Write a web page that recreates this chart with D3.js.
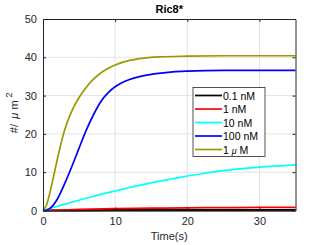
<!DOCTYPE html>
<html>
<meta charset="utf-8">
<style>
    body { margin: 0; background: #fff; font-family: "Liberation Sans", Arial, sans-serif; }
    .tick text { fill: #262626; font-size: 11px; }
    .grid line { stroke: #e3e3e3; }
</style>
<body>
<script src="https://cdn.jsdelivr.net/npm/d3@7"></script>
<div id="chart"></div>
<script>
    // values
    var seriesNames = ["0.1 nM", "1 nM", "10 nM", "100 nM", "1 \u03bc M"];
    var seriesColors = ["#000000", "#ff0000", "#00ffff", "#0000ff", "#999900"];

    var tBlack = [0, 5, 10, 20, 35];
    var vBlack = [0, 0.05, 0.08, 0.1, 0.1];

    var tRed = [0, 2, 5, 10, 15, 20, 25, 30, 35];
    var vRed = [0, 0.1, 0.3, 0.5, 0.6, 0.7, 0.75, 0.8, 0.8];

    var tCyan = [0, 2, 4, 6, 8, 10, 12, 14, 16, 18, 20, 22, 25, 28, 30, 35];
    var vCyan = [0, 1.1, 2.2, 3.2, 4.2, 5.1, 6.0, 6.8, 7.6, 8.3, 9.0, 9.6, 10.4, 11.0, 11.3, 11.9];

    var tBlue = [0, 0.5, 1, 1.5, 2, 3, 4, 5, 6, 7, 8, 9, 10, 11, 12, 14, 16, 18, 20, 25, 30, 35];
    var vBlue = [0, 0.1, 0.6, 1.6, 3, 7, 11.5, 16.3, 21, 25, 28.4, 30.7, 32.3, 33.4, 34.2, 35.2, 35.8, 36.2, 36.4, 36.6, 36.6, 36.6];

    var tOlive = [0, 0.5, 1, 1.5, 2, 2.5, 3, 4, 5, 6, 7, 8, 9, 10, 12, 14, 16, 20, 25, 30, 35];
    var vOlive = [0, 1.5, 5, 9.2, 13.5, 17.5, 21, 26, 29.5, 32.2, 34.3, 35.9, 37.1, 38, 39.2, 39.8, 40.1, 40.3, 40.4, 40.4, 40.4];

    var xTicks = [0, 10, 20, 30];
    var yTicks = [0, 10, 20, 30, 40, 50];

    var allT = [tBlack, tRed, tCyan, tBlue, tOlive];
    var allV = [vBlack, vRed, vCyan, vBlue, vOlive];

    var W = 327, H = 245;
    var margin = { top: 19, right: 31.5, bottom: 34.5, left: 43 };
    var width = W - margin.left - margin.right;
    var height = H - margin.top - margin.bottom;

    var svg = d3.select("#chart").append("svg")
        .attr("width", W)
        .attr("height", H);

    var g = svg.append("g")
        .attr("transform", "translate(" + margin.left + "," + margin.top + ")");

    var x = d3.scaleLinear().domain([0, 35]).range([0, width]);
    var y = d3.scaleLinear().domain([0, 50]).range([height, 0]);

    // grid
    g.append("g").attr("class", "grid")
        .selectAll("line.gx").data(xTicks.slice(1)).enter().append("line")
        .attr("x1", x).attr("x2", x).attr("y1", 0).attr("y2", height);
    g.append("g").attr("class", "grid")
        .selectAll("line.gy").data(yTicks.slice(1, -1)).enter().append("line")
        .attr("x1", 0).attr("x2", width).attr("y1", y).attr("y2", y);

    // curves
    var line = d3.line()
        .x(function (d) { return x(d[0]); })
        .y(function (d) { return y(d[1]); })
        .curve(d3.curveMonotoneX);

    for (var i = 0; i < allT.length; i++) {
        var pts = allT[i].map(function (t, j) { return [t, allV[i][j]]; });
        g.append("path")
            .datum(pts)
            .attr("fill", "none")
            .attr("stroke", seriesColors[i])
            .attr("stroke-width", i == 0 ? 2.2 : 1.7)
            .attr("d", line);
    }

    // axes (box with inward ticks, MATLAB style)
    var axisColor = "#262626";
    g.append("g")
        .attr("transform", "translate(0," + height + ")")
        .call(d3.axisBottom(x).tickValues(xTicks).tickSizeInner(-3).tickSizeOuter(0).tickPadding(7));
    g.append("g")
        .call(d3.axisLeft(y).tickValues(yTicks).tickSizeInner(-3).tickSizeOuter(0).tickPadding(6));
    g.append("g")
        .call(d3.axisTop(x).tickValues(xTicks).tickSizeInner(-3).tickSizeOuter(0).tickFormat(""));
    g.append("g")
        .attr("transform", "translate(" + width + ",0)")
        .call(d3.axisRight(y).tickValues(yTicks).tickSizeInner(-3).tickSizeOuter(0).tickFormat(""));
    g.selectAll(".domain").attr("stroke", axisColor);
    g.selectAll(".tick line").attr("stroke", axisColor);
    g.selectAll(".tick text").attr("fill", axisColor).style("font-size", "11px");

    // title & labels
    svg.append("text")
        .attr("x", margin.left + width / 2)
        .attr("y", 13)
        .attr("text-anchor", "middle")
        .style("font-size", "11px")
        .style("font-weight", "bold")
        .attr("fill", "#000")
        .text("Ric8*");

    svg.append("text")
        .attr("x", margin.left + width / 2)
        .attr("y", 240)
        .attr("text-anchor", "middle")
        .style("font-size", "11px")
        .attr("fill", axisColor)
        .text("Time(s)");

    var yl = svg.append("text")
        .attr("transform", "translate(18," + (margin.top + height / 2 - 2) + ") rotate(-90)")
        .attr("text-anchor", "middle")
        .style("font-size", "11px")
        .attr("fill", axisColor);
    yl.append("tspan").text("#/\u2009 ");
    yl.append("tspan").style("font-style", "italic").text("\u03bc");
    yl.append("tspan").text(" m ");
    yl.append("tspan").attr("dy", -6).style("font-size", "9px").text("2");

    // legend
    var lx = 193, ly = 87.5, lw = 72, lh = 69;
    var leg = svg.append("g").attr("transform", "translate(" + lx + "," + ly + ")");
    leg.append("rect")
        .attr("width", lw).attr("height", lh)
        .attr("fill", "#fff")
        .attr("stroke", axisColor)
        .attr("stroke-width", 0.8);
    seriesNames.forEach(function (name, k) {
        var yy = 8 + k * 13.5;
        leg.append("line")
            .attr("x1", 2).attr("x2", 29)
            .attr("y1", yy).attr("y2", yy)
            .attr("stroke", seriesColors[k])
            .attr("stroke-width", 1.7);
        var tx = leg.append("text")
            .attr("x", 30).attr("y", yy + 4)
            .style("font-size", "10.5px")
            .attr("fill", "#000");
        if (name.indexOf("\u03bc") >= 0) {
            var parts = name.split("\u03bc");
            tx.append("tspan").text(parts[0]);
            tx.append("tspan").style("font-style", "italic").style("font-size", "9px").text("\u03bc");
            tx.append("tspan").text(parts[1]);
        } else {
            tx.text(name);
        }
    });
</script>
</body>
</html>
